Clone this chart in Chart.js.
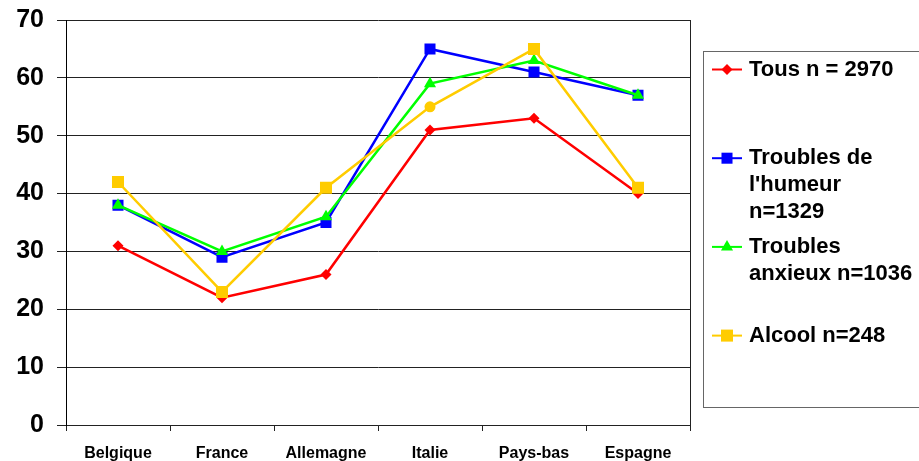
<!DOCTYPE html>
<html>
<head>
<meta charset="utf-8">
<script src="https://cdn.jsdelivr.net/npm/chart.js"></script>
<style>
  html, body { margin: 0; padding: 0; background: #fff; }
  canvas { display: block; }
</style>
</head>
<body>
<canvas id="c" width="919" height="461"></canvas>
<script>
// Countries on the x axis
const countries = ['Belgique', 'France', 'Allemagne', 'Italie', 'Pays-bas', 'Espagne'];

// Percentages per group
const tous    = [31, 22, 26, 51, 53, 40];
const humeur  = [38, 29, 35, 65, 61, 57];
const anxieux = [38, 30, 36, 59, 63, 57];
const alcool  = [42, 23, 41, 55, 65, 41];

// Y axis ticks
const yTicks = [0, 10, 20, 30, 40, 50, 60, 70];

// Legend text, one entry per series, split into lines
const legendTous    = ['Tous n = 2970'];
const legendHumeur  = ['Troubles de', "l'humeur", 'n=1329'];
const legendAnxieux = ['Troubles', 'anxieux n=1036'];
const legendAlcool  = ['Alcool n=248'];

const FONT = "Arial, 'Liberation Sans', Helvetica, sans-serif";

function marker(ctx, style, r, x, y, color) {
  ctx.fillStyle = color;
  ctx.beginPath();
  if (style === 'rectRot') {
    ctx.moveTo(x, y - r); ctx.lineTo(x + r, y); ctx.lineTo(x, y + r); ctx.lineTo(x - r, y);
  } else if (style === 'rect') {
    const s = Math.SQRT1_2 * r;
    ctx.rect(x - s, y - s, 2 * s, 2 * s);
  } else if (style === 'triangle') {
    const k = Math.sin(Math.PI * 2 / 3) * r;
    ctx.moveTo(x, y - r); ctx.lineTo(x + k, y + r / 2); ctx.lineTo(x - k, y + r / 2);
  } else {
    ctx.arc(x, y, r, 0, Math.PI * 2);
  }
  ctx.closePath();
  ctx.fill();
}

// Plot frame on the right edge and the boxed legend beside the plot
const frameAndLegend = {
  id: 'frameAndLegend',
  afterDraw(chart) {
    const { ctx, chartArea: a } = chart;
    ctx.save();
    ctx.strokeStyle = '#222';
    ctx.lineWidth = 1;
    const rx = Math.round(a.right) + 0.5;
    ctx.beginPath(); ctx.moveTo(rx, a.top); ctx.lineTo(rx, a.bottom); ctx.stroke();

    const bx = 703.5, by = 51.5;
    ctx.strokeStyle = '#666';
    ctx.strokeRect(bx, by, 240, 356);

    ctx.font = 'bold 22px ' + FONT;
    ctx.textBaseline = 'middle';
    ctx.textAlign = 'left';
    chart.data.datasets.forEach((ds, i) => {
      const y0 = 69.5 + 88.7 * i;
      ctx.strokeStyle = ds.borderColor;
      ctx.lineWidth = 2;
      ctx.beginPath(); ctx.moveTo(712, y0); ctx.lineTo(742, y0); ctx.stroke();
      marker(ctx, ds.legendStyle, ds.legendRadius, 727, y0, ds.borderColor);
      ctx.fillStyle = '#000';
      ds.legendLines.forEach((t, j) => ctx.fillText(t, 749, y0 + 27 * j));
    });
    ctx.restore();
  }
};

function series(lines, data, color, style, radius, order) {
  return {
    label: lines.join(' '),
    legendLines: lines,
    legendStyle: style,
    legendRadius: radius,
    data: data,
    borderColor: color,
    backgroundColor: color,
    borderWidth: 2.5,
    pointStyle: style,
    pointRadius: radius,
    pointBorderWidth: 0,
    pointBackgroundColor: color,
    tension: 0,
    order: order
  };
}

const dsAlcool = series(legendAlcool, alcool, '#FFCC00', 'rect', 8.5, 1);
dsAlcool.pointStyle = ['rect', 'rect', 'rect', 'circle', 'rect', 'rect'];
dsAlcool.pointRadius = [8.5, 8.5, 8.5, 5.5, 8.5, 8.5];

new Chart(document.getElementById('c'), {
  type: 'line',
  data: {
    labels: countries,
    datasets: [
      series(legendTous, tous, '#FF0000', 'rectRot', 5.5, 4),
      series(legendHumeur, humeur, '#0000FF', 'rect', 7.8, 3),
      series(legendAnxieux, anxieux, '#00FF00', 'triangle', 7, 2),
      dsAlcool
    ]
  },
  options: {
    responsive: false,
    devicePixelRatio: 1,
    animation: false,
    events: [],
    layout: { padding: { top: 20, left: 0, right: 229, bottom: 0 } },
    plugins: { legend: { display: false }, tooltip: { enabled: false } },
    scales: {
      x: {
        type: 'category',
        offset: true,
        grid: { offset: true, drawOnChartArea: false, drawTicks: true, tickLength: 6, color: '#222' },
        border: { color: '#222', width: 1 },
        ticks: { color: '#000', font: { family: FONT, size: 16, weight: 'bold' }, padding: 13, maxRotation: 0, autoSkip: false },
        afterFit(scale) { scale.height = 36; scale.paddingLeft = 0; scale.paddingRight = 0; }
      },
      y: {
        min: 0,
        max: 70,
        grid: { color: '#222', lineWidth: 1, tickLength: 9 },
        border: { color: '#000', width: 1 },
        ticks: { stepSize: 10, color: '#000', font: { family: FONT, size: 25, weight: 'bold' }, padding: 13 },
        afterBuildTicks(scale) { scale.ticks = yTicks.map(v => ({ value: v })); },
        afterFit(scale) { scale.width = 66; scale.paddingTop = 0; scale.paddingBottom = 0; }
      }
    }
  },
  plugins: [frameAndLegend]
});
</script>
</body>
</html>
